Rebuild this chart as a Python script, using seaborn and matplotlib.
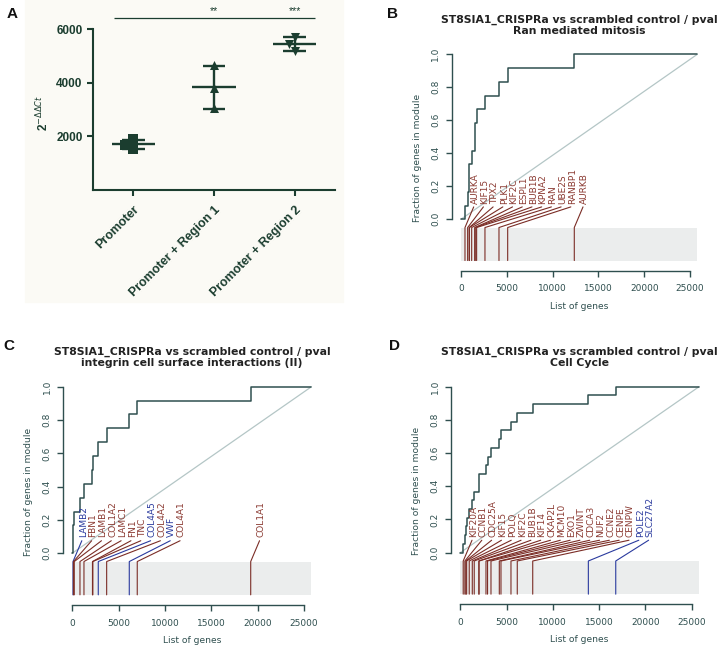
import numpy as np
import pandas as pd
import matplotlib
matplotlib.use("Agg")
import matplotlib.pyplot as plt
from matplotlib.patches import Rectangle
import seaborn as sns

# ---- panel A: 2^-ddCt values
groups = ["Promoter", "Promoter + Region 1", "Promoter + Region 2"]
promoter = [1890, 1540, 1690]
region1 = [4650, 3800, 3060]
region2 = [5700, 5440, 5180]
markers_a = ["s", "^", "v"]
stars = ["", "**", "***"]
sig_level = 6400

# ---- panels B-D: rank of the module genes in the sorted gene list
n_genes = 25800
title_top = "ST8SIA1_CRISPRa vs scrambled control / pval"

b_title = "Ran mediated mitosis"
b_genes = ["AURKA", "KIF15", "TPX2", "PLK1", "KIF2C", "ESPL1", "BUB1B",
           "KPNA2", "RAN", "UBE2S", "RANBP1", "AURKB"]
b_ranks = [440, 730, 900, 920, 1170, 1500, 1560, 1710, 2620, 4150, 5100, 12370]
b_dir = ["up"] * 12

c_title = "integrin cell surface interactions (II)"
c_genes = ["LAMB2", "FBN1", "LAMB1", "COL1A2", "LAMC1", "FN1", "TNC",
           "COL4A5", "COL4A2", "VWF", "COL4A1", "COL1A1"]
c_ranks = [80, 130, 216, 831, 1262, 2180, 2220, 2805, 3710, 6150, 7010, 19250]
c_dir = ["down", "up", "up", "up", "up", "up", "up",
         "down", "up", "down", "up", "up"]

d_title = "Cell Cycle"
d_genes = ["KIF20A", "CCNB1", "CDC25A", "KIF15", "POLQ", "KIF2C", "BUB1B",
           "KIF14", "CKAP2L", "MCM10", "EXO1", "ZWINT", "CDCA3", "NUF2",
           "CCNE2", "CENPE", "CENPW", "POLE2", "SLC27A2"]
d_ranks = [320, 500, 600, 690, 970, 1300, 1510, 2010, 2030, 2780, 2950,
           3320, 4220, 4400, 5480, 6160, 7830, 13840, 16800]
d_dir = ["up"] * 17 + ["down", "down"]

sns.set_theme(style="ticks")
plt.rcParams['font.family'] = ['DejaVu Sans']

W, H = 721, 651
fig = plt.figure(figsize=(W / 100, H / 100), dpi=100)

def px_axes(left, right, top, bottom):
    return fig.add_axes([left / W, 1 - bottom / H, (right - left) / W, (bottom - top) / H])

green = "#1b3d2f"
slate = "#2f4f4f"
brown = "#7b2d26"
brown_txt = "#8b3a32"
blue = "#2a3a9e"

# ---------------- panel A
fig.patches.append(Rectangle((25 / W, 1 - 302 / H), 318 / W, 302 / H,
                             transform=fig.transFigure, color="#fbfaf5", zorder=-10))
axA = px_axes(93, 335, 15.8, 190)
axA.set_facecolor("none")
df = pd.DataFrame({"group": np.repeat(groups, 3),
                   "value": promoter + region1 + region2})
for g, m in zip(groups, markers_a):
    sub = df[df.group == g]
    sns.swarmplot(data=sub, x="group", y="value", order=groups, marker=m,
                  color=green, size=6.5, ax=axA, zorder=3)
stats = df.groupby("group", sort=False)["value"].agg(["mean", "std"])
for i, g in enumerate(groups):
    mu, sd = stats.loc[g, "mean"], stats.loc[g, "std"]
    axA.hlines(mu, i - 0.27, i + 0.27, color=green, lw=1.7, zorder=4)
    axA.vlines(i, mu - sd, mu + sd, color=green, lw=1.7, zorder=4)
    axA.hlines([mu - sd, mu + sd], i - 0.14, i + 0.14, color=green, lw=1.7, zorder=4)
    if stars[i]:
        axA.text(i, sig_level + 80, stars[i], ha="center", va="bottom",
                 color=green, fontsize=7.5, family="Liberation Sans")
axA.hlines(sig_level, -0.24, 2.25, color=green, lw=0.9, clip_on=False)
axA.set_xlim(-0.5, 2.5)
axA.set_ylim(0, 6500)
axA.set_yticks([2000, 4000, 6000])
axA.spines[["top", "right"]].set_visible(False)
axA.spines["left"].set_bounds(0, 6000)
for s in ["left", "bottom"]:
    axA.spines[s].set_color(green)
    axA.spines[s].set_linewidth(1.5)
axA.tick_params(colors=green, width=1.5, length=4, labelsize=8.5)
axA.set_xlabel("")
axA.set_ylabel(r"2$^{-\Delta\Delta Ct}$", fontsize=8.5, fontweight="bold",
               color=green, family="Liberation Sans", va="center")
axA.yaxis.set_label_coords(-0.207, 0.44)
axA.set_xticks(range(3))
axA.set_xticklabels(groups, rotation=45, ha="right", rotation_mode="anchor",
                    fontsize=9, fontweight="bold", family="Liberation Sans")
for lab in axA.get_yticklabels():
    lab.set_fontweight("bold")
    lab.set_family("Liberation Sans")
axA.tick_params(axis="x", pad=6)


# ---------------- panels B-D
def evidence_plot(ax, genes, ranks, dirs, subtitle):
    n = len(ranks)
    xs = [0] + list(ranks) + [n_genes]
    ys = [0] + list(np.arange(1, n + 1) / n) + [1]
    sns.lineplot(x=[0, n_genes], y=[0, 1], color="#b4c6c6", lw=0.9, ax=ax)
    sns.lineplot(x=xs, y=ys, drawstyle="steps-post", estimator=None, sort=False,
                 color=slate, lw=1.1, ax=ax)
    ax.add_patch(Rectangle((0, -0.25), n_genes, 0.2, color="#ebeded", lw=0, zorder=0))
    # labels spread to the right of their gene, keeping a minimum gap
    lab_x = []
    for r in ranks:
        x = r + 1100
        if lab_x:
            x = max(x, lab_x[-1] + 1060)
        lab_x.append(x)
    for g, r, lx, d in zip(genes, ranks, lab_x, dirs):
        lc = brown if d == "up" else blue
        tc = brown_txt if d == "up" else blue
        ax.plot([lx - 150, r, r], [0.075, -0.05, -0.25], color=lc, lw=0.8)
        ax.text(lx, 0.095, g, rotation=90, ha="center", va="bottom",
                fontsize=6.5, color=tc)
    ax.set_xlim(-1032, 26832)
    ax.set_ylim(-0.311, 1.05)
    ax.set_xticks([0, 5000, 10000, 15000, 20000, 25000])
    ax.set_yticks([0, 0.2, 0.4, 0.6, 0.8, 1.0])
    ax.set_yticklabels(["0.0", "0.2", "0.4", "0.6", "0.8", "1.0"])
    ax.spines[["top", "right"]].set_visible(False)
    ax.spines["left"].set_bounds(0, 1)
    ax.spines["bottom"].set_bounds(0, 25000)
    for s in ["left", "bottom"]:
        ax.spines[s].set_color(slate)
        ax.spines[s].set_linewidth(1.0)
    ax.tick_params(colors=slate, width=1.0, length=4, labelsize=6.5)
    ax.tick_params(axis="x", pad=6)
    ax.tick_params(axis="y", pad=4)
    for lab in ax.get_yticklabels():
        lab.set_rotation(90)
        lab.set_va("center")
    h = ax.get_position().height * H
    w = ax.get_position().width * W
    ax.set_xlabel("List of genes", fontsize=6.6, color=slate)
    ax.xaxis.set_label_coords(0.5, -31 / h)
    ax.set_ylabel("Fraction of genes in module", fontsize=6.6, color=slate, va="center")
    ax.yaxis.set_label_coords(-34 / w, 0.5)
    ax.text(0.5, 1 + 10 / h, title_top + "\n" + subtitle, transform=ax.transAxes,
            ha="center", va="bottom", fontsize=7.8, fontweight="bold",
            color="#222222", linespacing=1.15)


axB = px_axes(451.5, 706.8, 46, 270.6)
evidence_plot(axB, b_genes, b_ranks, b_dir, b_title)
axC = px_axes(62.7, 321, 378.4, 605)
evidence_plot(axC, c_genes, c_ranks, c_dir, c_title)
axD = px_axes(450.7, 708.6, 378.4, 604.3)
evidence_plot(axD, d_genes, d_ranks, d_dir, d_title)

for letter, x, y in [("A", 12, 14), ("B", 393, 14), ("C", 9, 346), ("D", 395, 346)]:
    fig.text(x / W, 1 - y / H, letter, fontsize=11, fontweight="bold",
             family="Liberation Sans", ha="center", va="center", color="#111111")

fig.savefig("out.png", dpi=100, facecolor="white")
